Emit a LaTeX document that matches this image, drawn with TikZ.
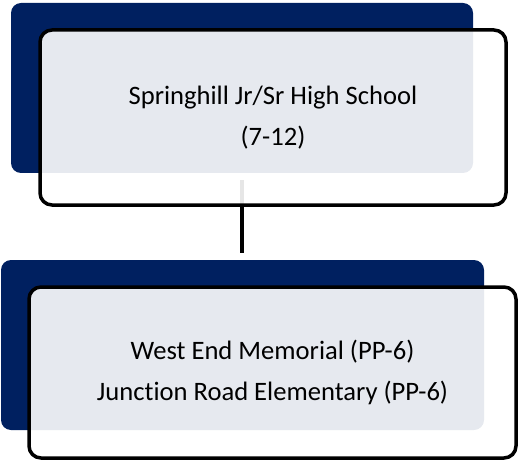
\documentclass[tikz,border=0pt]{standalone}
\usepackage{fontspec}
\setmainfont{Carlito}[Ligatures={NoCommon}]
\usetikzlibrary{positioning}
\definecolor{navy}{HTML}{002060}

\begin{document}
\begin{tikzpicture}[x=1pt,y=-1pt,
  back/.style={fill=navy,rounded corners=10pt,inner sep=0pt},
  card/.style={draw=black,line width=3.5pt,fill=white,fill opacity=.9,text opacity=1,
    rounded corners=12pt,inner sep=0pt,align=center,
    font=\fontsize{26.6}{41}\selectfont},
  link/.style={line width=3.5pt}]
\useasboundingbox (0,0) rectangle (519,465);
% top level
\node[back,minimum width=462pt,minimum height=170pt] (hsback) at (242,88) {};
\coordinate (hsout) at (242,180);
\coordinate (elin) at (242,253);
\draw[link] (hsout) -- (elin);
\node[card,minimum width=466pt,minimum height=175pt] (hs) at (273,117.5)
  {Springhill Jr/Sr High School\\(7-12)};
% elementary level
\node[back,minimum width=483pt,minimum height=170pt] (elback) at (242.5,345) {};
\node[card,minimum width=487pt,minimum height=171pt] (el) at (272.5,372.5)
  {West End Memorial (PP-6)\\Junction Road Elementary (PP-6)};
\end{tikzpicture}
\end{document}
